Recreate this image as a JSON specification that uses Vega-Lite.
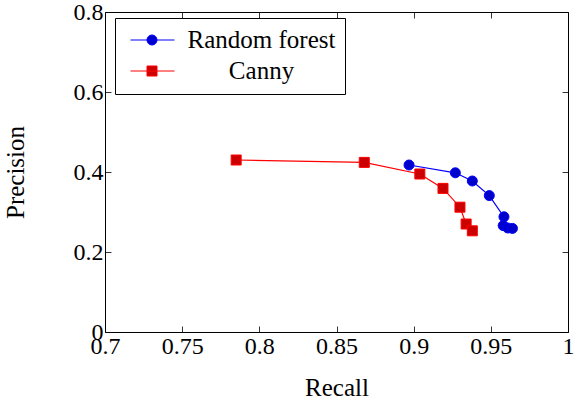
{
  "$schema": "https://vega.github.io/schema/vega-lite/v6.json",
  "width": 463,
  "height": 320,
  "autosize": {"type": "none"},
  "padding": {"left": 105, "top": 12, "right": 6, "bottom": 68},
  "background": "white",
  "config": {
    "view": {"stroke": "black", "strokeWidth": 1},
    "font": "Times New Roman",
    "style": {"guide-label": {"font": "Times New Roman", "fontSize": 24, "fill": "black"}, "guide-title": {"font": "Times New Roman", "fontSize": 25}},
    "axis": {
      "grid": false,
      "domain": false,
      "tickColor": "black",
      "tickSize": -6,
      "tickWidth": 0.8,
      "labelFlush": false,
      "labelFont": "Times New Roman",
      "labelFontSize": 24,
      "labelColor": "black",
      "titleFont": "Times New Roman",
      "titleFontSize": 25,
      "titleFontWeight": "normal",
      "titleColor": "black"
    },
    "axisX": {"labelFont": "Times New Roman", "labelFontSize": 24},
    "axisY": {"labelFont": "Times New Roman", "labelFontSize": 24},
    "axisQuantitative": {"labelFont": "Times New Roman", "labelFontSize": 24},
    "legend": {
      "orient": "none",
      "legendX": 10,
      "legendY": 6,
      "strokeColor": "black",
      "fillColor": "white",
      "padding": 9.5,
      "labelFont": "Times New Roman",
      "labelFontSize": 25,
      "labelColor": "black",
      "labelAlign": "center",
      "labelOffset": 112,
      "labelLimit": 400,
      "rowPadding": 5,
      "symbolSize": 100,
      "symbolStrokeWidth": 1
    }
  },
  "data": {
    "values": [
      {"series": "Random forest", "recall": 0.897, "precision": 0.4175},
      {"series": "Random forest", "recall": 0.927, "precision": 0.398},
      {"series": "Random forest", "recall": 0.938, "precision": 0.3775},
      {"series": "Random forest", "recall": 0.949, "precision": 0.341},
      {"series": "Random forest", "recall": 0.9585, "precision": 0.288},
      {"series": "Random forest", "recall": 0.958, "precision": 0.266},
      {"series": "Random forest", "recall": 0.961, "precision": 0.26},
      {"series": "Random forest", "recall": 0.964, "precision": 0.259},
      {"series": "Canny", "recall": 0.785, "precision": 0.43},
      {"series": "Canny", "recall": 0.868, "precision": 0.424},
      {"series": "Canny", "recall": 0.904, "precision": 0.395},
      {"series": "Canny", "recall": 0.919, "precision": 0.359},
      {"series": "Canny", "recall": 0.93, "precision": 0.312},
      {"series": "Canny", "recall": 0.934, "precision": 0.27},
      {"series": "Canny", "recall": 0.938, "precision": 0.253}
    ]
  },
  "resolve": {"axis": {"x": "independent", "y": "independent"}},
  "layer": [
    {
      "mark": {"type": "line", "strokeWidth": 1.2},
      "encoding": {
        "x": {
          "field": "recall", "type": "quantitative",
          "scale": {"domain": [0.7, 1], "nice": false, "zero": false},
          "axis": {"orient": "bottom", "values": [0.7, 0.75, 0.8, 0.85, 0.9, 0.95, 1], "format": "~g", "labelFont": "Times New Roman", "labelFontSize": 24, "labelFlush": false, "title": "Recall", "titleY": 63, "titleBaseline": "alphabetic", "labelPadding": 8,
            "encode": {"labels": {"update": {"font": {"value": "Times New Roman"}, "fontSize": {"value": 24}}}}}
        },
        "y": {
          "field": "precision", "type": "quantitative",
          "scale": {"domain": [0, 0.8], "nice": false},
          "axis": {"orient": "left", "values": [0, 0.2, 0.4, 0.6, 0.8], "format": "~g", "labelFont": "Times New Roman", "labelFontSize": 24, "labelFlush": false, "title": "Precision", "titleX": -82, "titleBaseline": "alphabetic", "labelPadding": 8,
            "encode": {"labels": {"update": {"font": {"value": "Times New Roman"}, "fontSize": {"value": 24}}}}}
        },
        "stroke": {
          "field": "series", "type": "nominal",
          "scale": {"domain": ["Random forest", "Canny"], "range": ["#0000ff", "#ff0000"]},
          "legend": {"title": null}
        },
        "order": {"field": "precision", "sort": "descending"}
      }
    },
    {
      "mark": {"type": "point", "filled": true, "size": 100, "strokeWidth": 1, "opacity": 1},
      "encoding": {
        "x": {
          "field": "recall", "type": "quantitative",
          "axis": {"orient": "top", "values": [0.7, 0.75, 0.8, 0.85, 0.9, 0.95, 1], "labels": false, "title": null}
        },
        "y": {
          "field": "precision", "type": "quantitative",
          "axis": {"orient": "right", "values": [0, 0.2, 0.4, 0.6, 0.8], "labels": false, "title": null}
        },
        "shape": {
          "condition": {"test": "datum.series === 'Canny'", "value": "square"},
          "value": "circle"
        },
        "fill": {
          "field": "series", "type": "nominal",
          "scale": {"domain": ["Random forest", "Canny"], "range": ["#0000cc", "#cc0000"]},
          "legend": {"title": null}
        },
        "stroke": {
          "field": "series", "type": "nominal",
          "legend": {"title": null}
        }
      }
    },
    {
      "mark": {"type": "point", "filled": true, "size": 0, "strokeWidth": 1},
      "encoding": {
        "x": {"field": "recall", "type": "quantitative", "axis": null},
        "y": {"field": "precision", "type": "quantitative", "axis": null},
        "shape": {
          "field": "series", "type": "nominal",
          "scale": {"domain": ["Random forest", "Canny"], "range": ["M-1.3,0H7.5M2,0A1,1 0 1,0 4,0A1,1 0 1,0 2,0Z", "M-1.3,0H7.5M2,-1H4V1H2Z"]},
          "legend": {"title": null}
        },
        "fill": {"field": "series", "type": "nominal", "legend": {"title": null}},
        "stroke": {"field": "series", "type": "nominal", "legend": {"title": null}}
      }
    }
  ]
}
